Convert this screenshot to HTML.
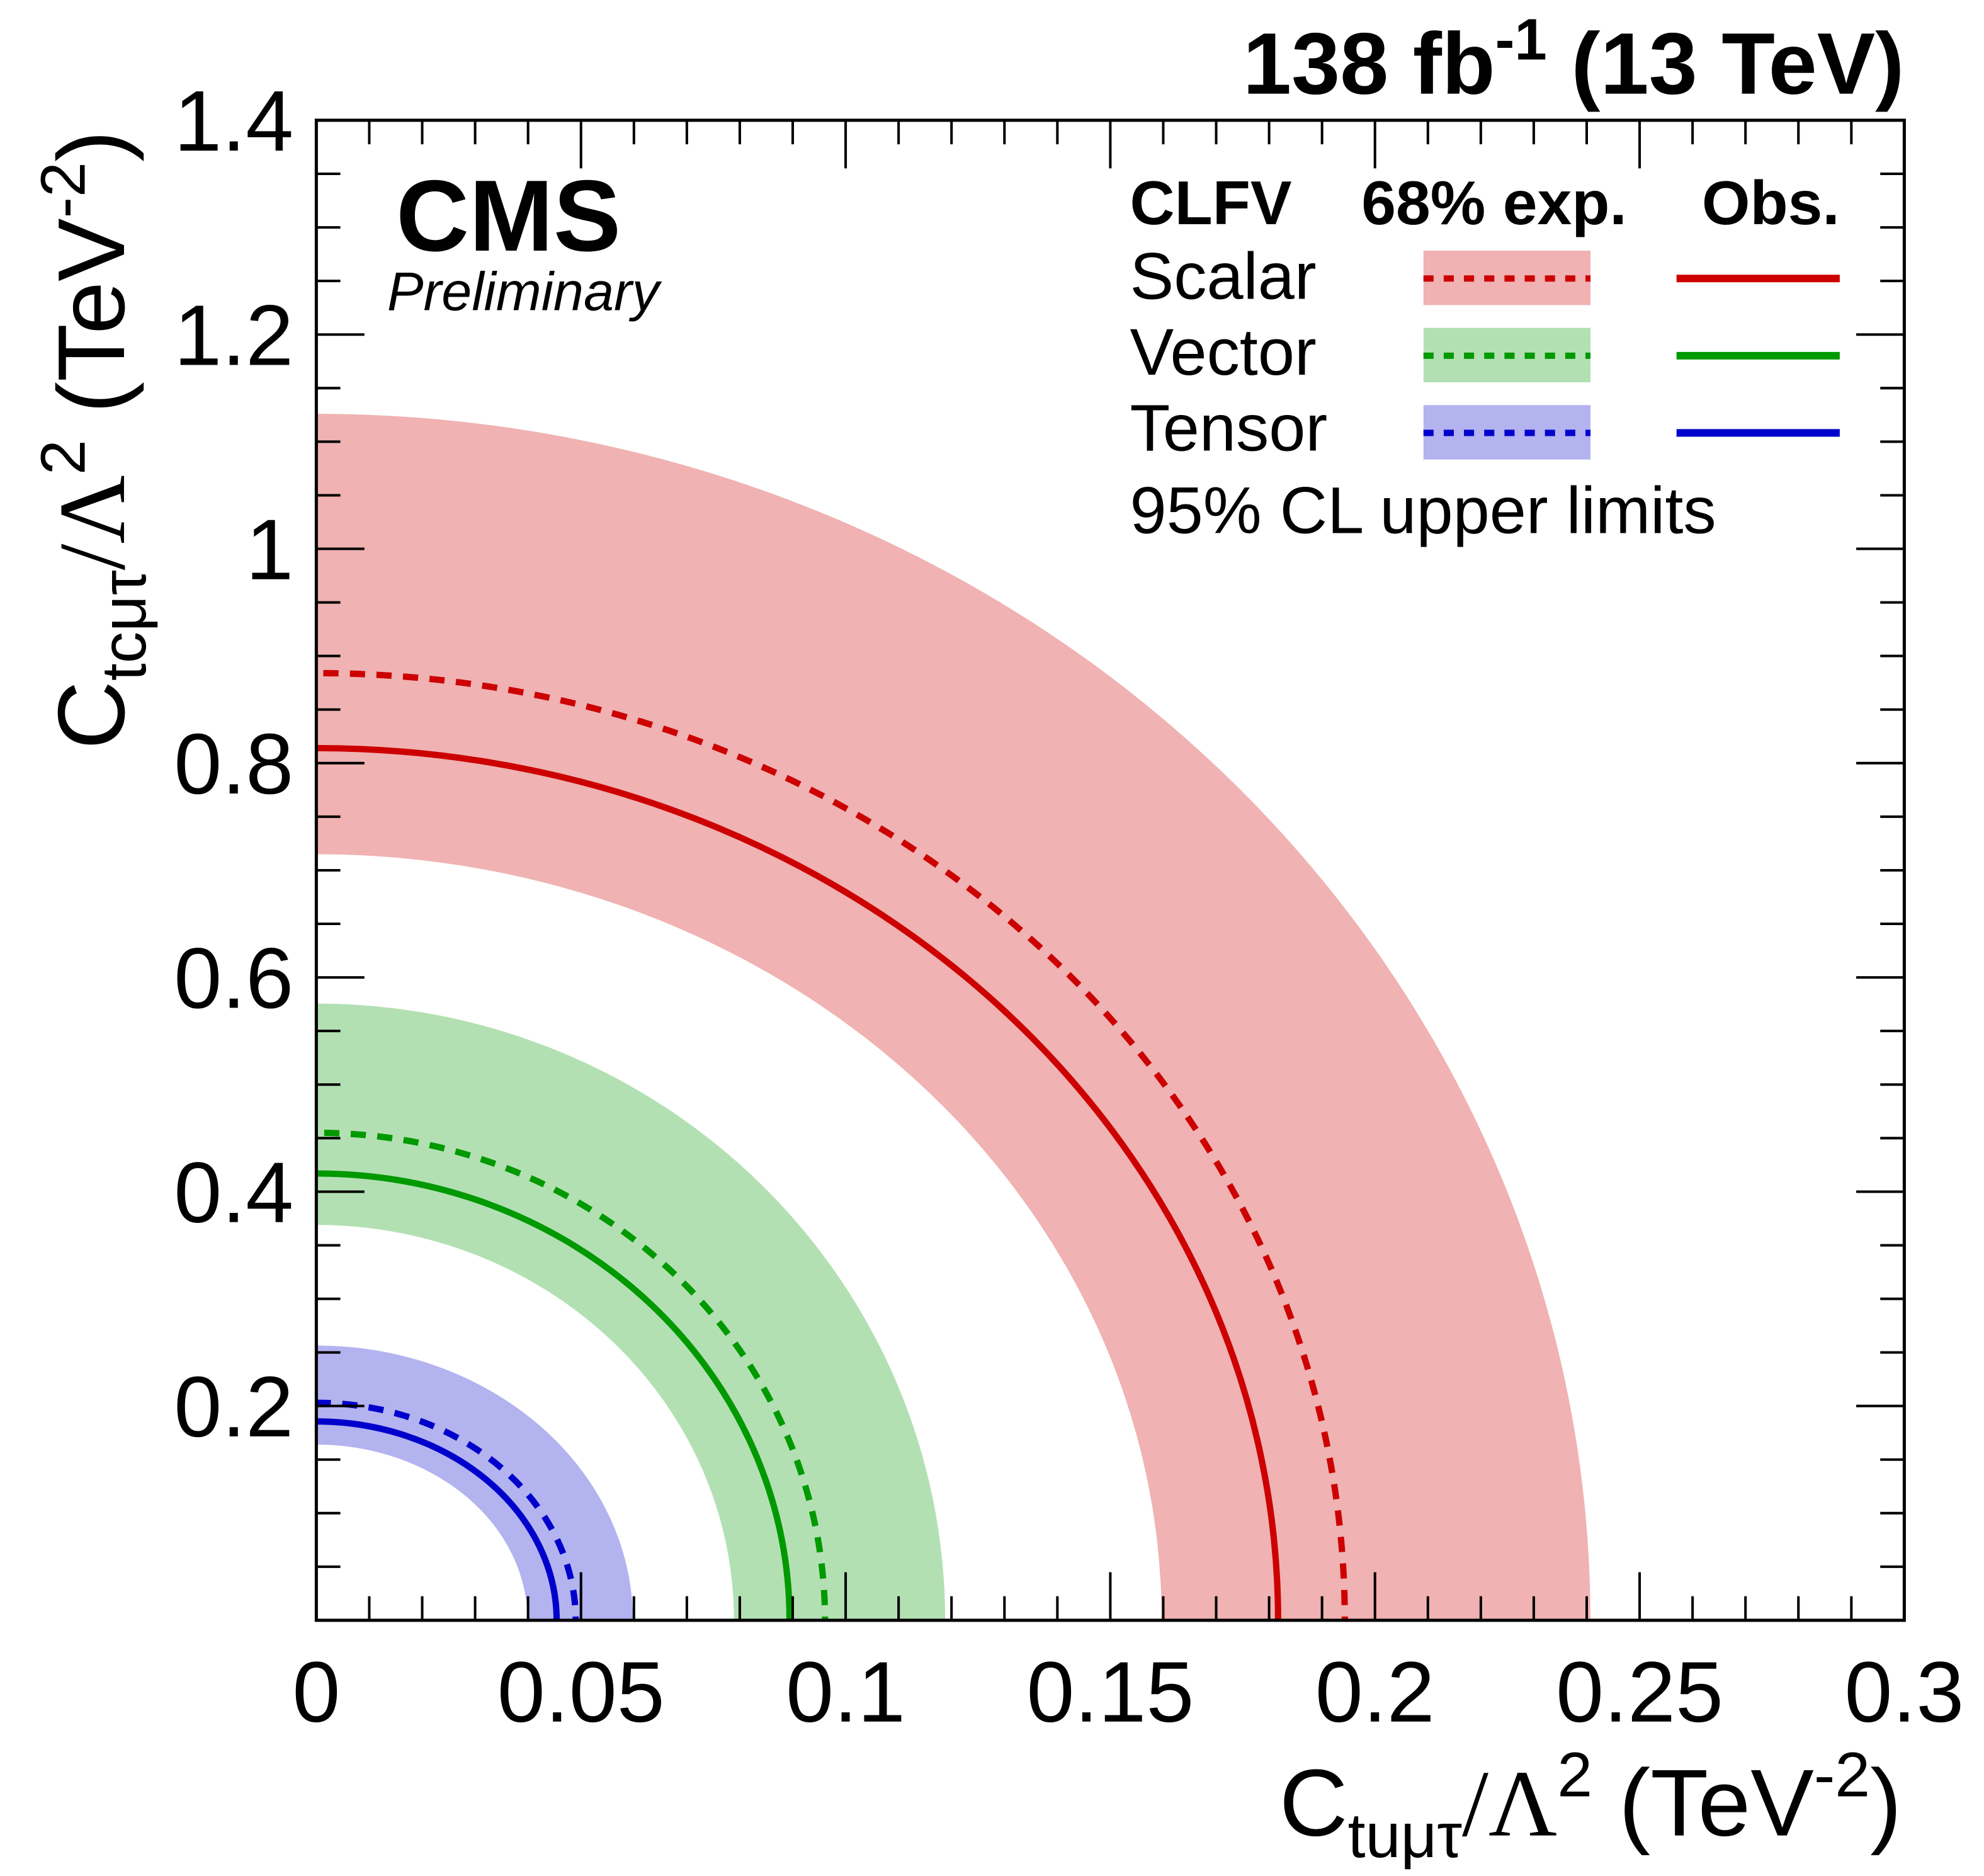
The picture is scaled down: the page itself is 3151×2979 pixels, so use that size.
<!DOCTYPE html>
<html><head><meta charset="utf-8"><style>
html,body{margin:0;padding:0;background:#fff}
svg{display:block}
text{font-family:"Liberation Sans",sans-serif;fill:#000}
</style></head><body>
<svg id="chart" width="3151" height="2979" viewBox="0 0 1568 1482" preserveAspectRatio="none" xmlns="http://www.w3.org/2000/svg">
<g id="bands"></g>
<g id="curves"></g>
<g id="axes"></g>
<text x="1505" y="74" text-anchor="end" font-size="69" font-weight="bold">138 fb<tspan dy="-27" font-size="46">-1</tspan><tspan dy="27"> (13 TeV)</tspan></text>
<text x="313" y="198" font-size="80" font-weight="bold">CMS</text>
<text x="306" y="245" font-size="43" font-style="italic">Preliminary</text>
<g font-size="52">
<text x="893" y="177" font-weight="bold" font-size="49">CLFV</text>
<text x="1076" y="177" font-weight="bold" font-size="49">68% exp.</text>
<text x="1345" y="177" font-weight="bold" font-size="49">Obs.</text>
<text x="893" y="236">Scalar</text>
<text x="893" y="296">Vector</text>
<text x="893" y="356">Tensor</text>
<text x="893" y="421">95% CL upper limits</text>
<rect x="1125" y="198" width="132" height="43" fill="#f0b2b2"/>
<rect x="1125" y="259" width="132" height="43" fill="#b3e0b3"/>
<rect x="1125" y="320" width="132" height="43" fill="#b3b3f0"/>
<line x1="1125" y1="220" x2="1257" y2="220" stroke="#cc0000" stroke-width="5" stroke-dasharray="8,8"/>
<line x1="1125" y1="281" x2="1257" y2="281" stroke="#009900" stroke-width="5" stroke-dasharray="8,8"/>
<line x1="1125" y1="342" x2="1257" y2="342" stroke="#0000cc" stroke-width="5" stroke-dasharray="8,8"/>
<line x1="1325" y1="220" x2="1454" y2="220" stroke="#cc0000" stroke-width="6"/>
<line x1="1325" y1="281" x2="1454" y2="281" stroke="#009900" stroke-width="6"/>
<line x1="1325" y1="342" x2="1454" y2="342" stroke="#0000cc" stroke-width="6"/>
</g>
<text x="1503" y="1450" text-anchor="end" font-size="75">C<tspan font-size="50" dy="17">tuμτ</tspan><tspan dy="-17" font-family="Liberation Serif">/Λ</tspan><tspan font-size="50" dy="-31">2</tspan><tspan dy="31"> (TeV</tspan><tspan font-size="50" dy="-31">-2</tspan><tspan dy="31">)</tspan></text>
<text transform="translate(98,592) rotate(-90)" font-size="75">C<tspan font-size="50" dy="17">tcμτ</tspan><tspan dy="-17" font-family="Liberation Serif">/Λ</tspan><tspan font-size="50" dy="-31">2</tspan><tspan dy="31"> (TeV</tspan><tspan font-size="50" dy="-31">-2</tspan><tspan dy="31">)</tspan></text>
</svg>
<script>
const seriesNames = ['scalar','vector','tensor'];
const colors = ['#cc0000','#009900','#0000cc'];
const bandColors = ['#f0b2b2','#b3e0b3','#b3b3f0'];
// radii along x (C_tu) and y (C_tc)
const bandOuterX = [0.2407, 0.1188, 0.0598];
const bandOuterY = [1.126, 0.5756, 0.2565];
const bandInnerX = [0.1597, 0.0789, 0.0399];
const bandInnerY = [0.715, 0.369, 0.164];
const expX = [0.1943, 0.0961, 0.049];
const expY = [0.884, 0.455, 0.203];
const obsX = [0.1817, 0.0894, 0.0454];
const obsY = [0.814, 0.417, 0.1856];
const xTicks = [0, 0.05, 0.1, 0.15, 0.2, 0.25, 0.3];
const xTickLabels = ['0','0.05','0.1','0.15','0.2','0.25','0.3'];
const yTicks = [0.2, 0.4, 0.6, 0.8, 1.0, 1.2, 1.4];
const yTickLabels = ['0.2','0.4','0.6','0.8','1','1.2','1.4'];

const X0=250, X1=1505, Y0=1280, Y1=95, XMAX=0.3, YMAX=1.4;
const sx = v => X0 + v/XMAX*(X1-X0);
const sy = v => Y0 - v/YMAX*(Y0-Y1);
const NS='http://www.w3.org/2000/svg';
function mk(tag, attrs){const e=document.createElementNS(NS,tag);for(const k in attrs)e.setAttribute(k,attrs[k]);return e;}
function arc(rx, ry){
  return 'M'+sx(rx)+','+sy(0)+' A'+(sx(rx)-sx(0))+','+(sy(0)-sy(ry))+' 0 0 0 '+sx(0)+','+sy(ry);
}
const bands=document.getElementById('bands'), curves=document.getElementById('curves'), axes=document.getElementById('axes');
for(let i=0;i<seriesNames.length;i++){
  const ox=bandOuterX[i], oy=bandOuterY[i], ix=bandInnerX[i], iy=bandInnerY[i];
  const d = arc(ox,oy)+' L'+sx(0)+','+sy(iy)+' A'+(sx(ix)-sx(0))+','+(sy(0)-sy(iy))+' 0 0 1 '+sx(ix)+','+sy(0)+' Z';
  const b=mk('path',{d:d,fill:bandColors[i]});
  
  
  bands.appendChild(b);
  const e=mk('path',{d:arc(expX[i],expY[i]),fill:'none',stroke:colors[i],'stroke-width':5,'stroke-dasharray':'12,9','stroke-dashoffset':'-12'});
  
  
  curves.appendChild(e);
  const o=mk('path',{d:arc(obsX[i],obsY[i]),fill:'none',stroke:colors[i],'stroke-width':5});
  
  
  curves.appendChild(o);
}
const fr=mk('rect',{x:X0,y:Y1,width:X1-X0,height:Y0-Y1,fill:'none',stroke:'#000','stroke-width':2.5});


axes.appendChild(fr);
for(let k=0;k<=30;k++){
  const v=k*0.01, len=(k%5===0)?38:19, x=sx(v);
  const t=mk('path',{d:'M'+x+','+Y0+'v-'+len+'M'+x+','+Y1+'v'+len,stroke:'#000','stroke-width':2});
  
  
  axes.appendChild(t);
}
for(let k=0;k<=28;k++){
  const v=k*0.05, len=(k%4===0)?38:19, y=sy(v);
  const t=mk('path',{d:'M'+X0+','+y+'h'+len+'M'+X1+','+y+'h-'+len,stroke:'#000','stroke-width':2});
  
  
  axes.appendChild(t);
}
xTicks.forEach((v,i)=>{
  const t=mk('text',{x:sx(v),y:1360,'text-anchor':'middle','font-size':68});
  t.textContent=xTickLabels[i];
  
  
  axes.appendChild(t);
});
yTicks.forEach((v,i)=>{
  const t=mk('text',{x:232,y:sy(v)+24,'text-anchor':'end','font-size':68});
  t.textContent=yTickLabels[i];
  
  
  axes.appendChild(t);
});
</script>
</body></html>
